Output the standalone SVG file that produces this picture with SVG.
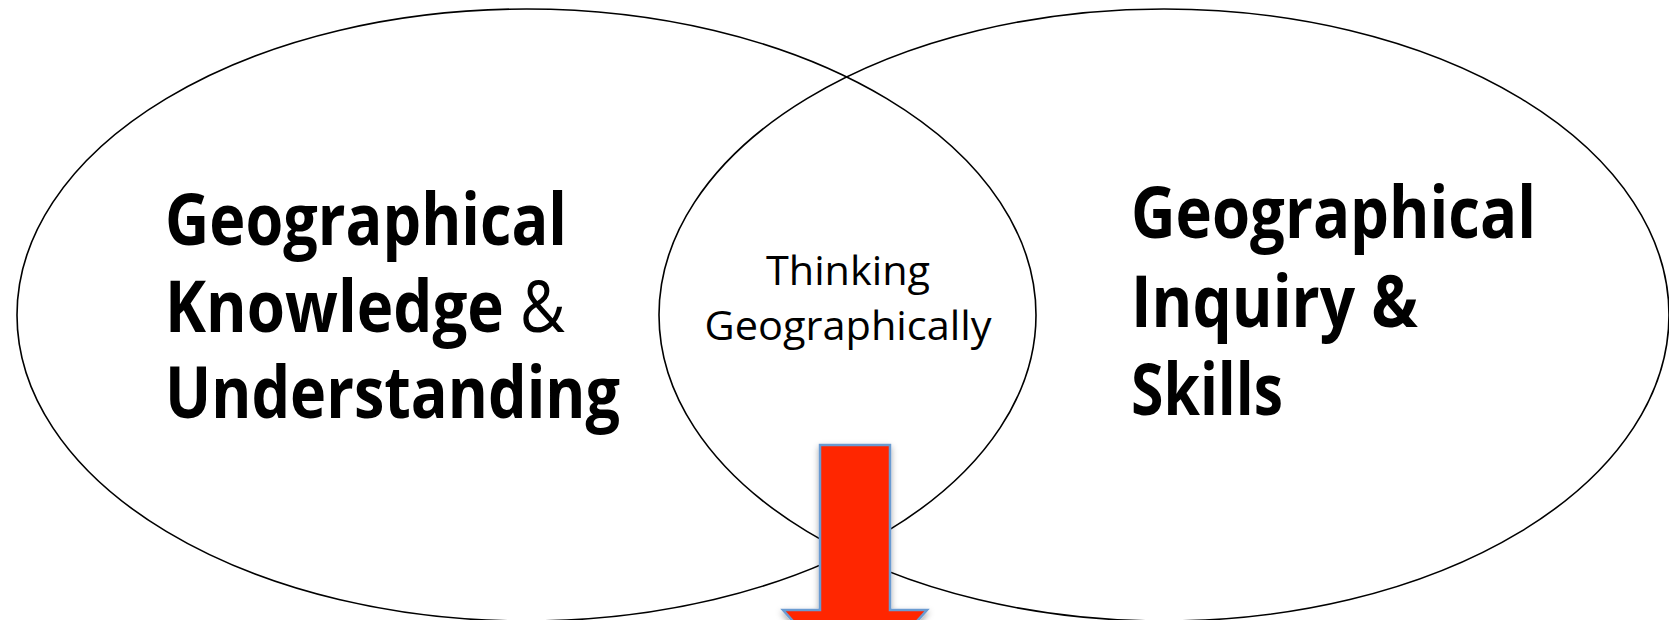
<svg xmlns="http://www.w3.org/2000/svg" width="1669" height="620" viewBox="0 0 1669 620">
<style>
.ring{fill:none;stroke:#000;stroke-width:1.6}
.big{font-family:"Open Sans","Liberation Sans",sans-serif;font-weight:700;font-size:72px;fill:#000}
.amp{font-weight:400}
.mid{font-family:"Open Sans","Liberation Sans",sans-serif;font-weight:400;font-size:40px;fill:#000}
.arrow{fill:#FF2600;stroke:#6B9BD1;stroke-width:2.5}
</style>
<defs>
<filter id="sh" x="-20%" y="-20%" width="140%" height="140%">
<feDropShadow dx="0" dy="3" stdDeviation="3" flood-color="#000" flood-opacity="0.35"/>
</filter>
</defs>
<rect width="1669" height="620" fill="#fff"/>
<g id="knowledge">
<ellipse class="ring" cx="526.5" cy="315" rx="509.5" ry="306"/>
<text class="big" x="165" y="245" textLength="402" lengthAdjust="spacingAndGlyphs">Geographical</text>
<text class="big" x="165" y="332" textLength="400" lengthAdjust="spacingAndGlyphs">Knowledge <tspan class="amp">&amp;</tspan></text>
<text class="big" x="165" y="418" textLength="455" lengthAdjust="spacingAndGlyphs">Understanding</text>
</g>
<g id="inquiry">
<ellipse class="ring" cx="1164" cy="315" rx="505" ry="306"/>
<text class="big" x="1131" y="238" textLength="405" lengthAdjust="spacingAndGlyphs">Geographical</text>
<text class="big" x="1131" y="327" textLength="287" lengthAdjust="spacingAndGlyphs">Inquiry &amp;</text>
<text class="big" x="1131" y="415" textLength="152" lengthAdjust="spacingAndGlyphs">Skills</text>
</g>
<g id="thinking">
<text class="mid" x="848" y="285" text-anchor="middle" textLength="164" lengthAdjust="spacingAndGlyphs">Thinking</text>
<text class="mid" x="848" y="340" text-anchor="middle" textLength="287" lengthAdjust="spacingAndGlyphs">Geographically</text>
</g>
<g id="connectors">
<polygon class="arrow" filter="url(#sh)" points="820,445 890,445 890,610 927,610 855,690 783,610 820,610"/>
</g>
</svg>
